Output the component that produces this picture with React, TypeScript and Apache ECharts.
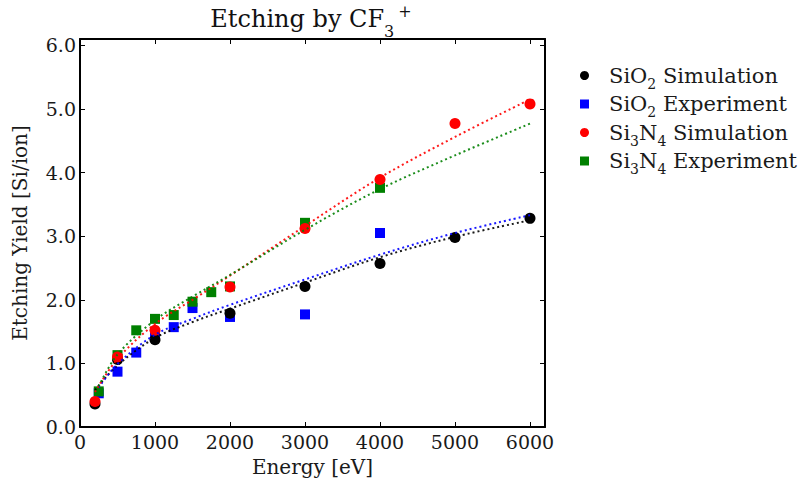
import React, { useEffect, useRef } from "react";
import * as echarts from "echarts";

// ---- data ----
const sio2SimX = [200, 500, 1000, 2000, 3000, 4000, 5000, 6000];
const sio2SimY = [0.36, 1.06, 1.37, 1.79, 2.21, 2.57, 2.98, 3.28];

const sio2ExpX = [250, 500, 750, 1000, 1250, 1500, 2000, 3000, 4000];
const sio2ExpY = [0.53, 0.87, 1.17, 1.45, 1.57, 1.87, 1.73, 1.77, 3.05];

const si3n4SimX = [200, 500, 1000, 2000, 3000, 4000, 5000, 6000];
const si3n4SimY = [0.4, 1.1, 1.52, 2.2, 3.12, 3.89, 4.77, 5.08];

const si3n4ExpX = [250, 500, 750, 1000, 1250, 1500, 1750, 2000, 3000, 4000];
const si3n4ExpY = [0.56, 1.13, 1.52, 1.7, 1.76, 1.97, 2.12, 2.21, 3.21, 3.76];

// fit curves (dotted), read at several energies
const fitSio2SimX = [200, 500, 1000, 1500, 2000, 3000, 4000, 5000, 6000];
const fitSio2SimY = [0.58, 0.97, 1.4, 1.65, 1.86, 2.27, 2.67, 2.99, 3.25];
const fitSio2ExpX = [250, 500, 1000, 1500, 2000, 3000, 4000, 5000, 6000];
const fitSio2ExpY = [0.62, 0.99, 1.45, 1.7, 1.92, 2.32, 2.71, 3.05, 3.33];
const fitSi3n4SimX = [200, 500, 1000, 1500, 2000, 3000, 4000, 5000, 6000];
const fitSi3n4SimY = [0.55, 1.07, 1.62, 2.0, 2.38, 3.16, 3.92, 4.56, 5.15];
const fitSi3n4ExpX = [250, 500, 1000, 1500, 2000, 3000, 4000, 5000, 6000];
const fitSi3n4ExpY = [0.64, 1.14, 1.68, 2.05, 2.39, 3.1, 3.74, 4.27, 4.77];

const legendNames = ["SiO2 Simulation", "SiO2 Experiment", "Si3N4 Simulation", "Si3N4 Experiment"];
const legendRich: Record<string, string> = {
  "SiO2 Simulation": "{a|SiO}{s|2}{a| Simulation}",
  "SiO2 Experiment": "{a|SiO}{s|2}{a| Experiment}",
  "Si3N4 Simulation": "{a|Si}{s|3}{a|N}{s|4}{a| Simulation}",
  "Si3N4 Experiment": "{a|Si}{s|3}{a|N}{s|4}{a| Experiment}",
};

const xTicks = { min: 0, max: 6200, interval: 1000 };
const yTicks = { min: 0, max: 6.1, interval: 1 };

const FONT = "DejaVu Serif";

function pairs(xs: number[], ys: number[]) {
  return xs.map((x, i) => [x, ys[i]]);
}

export default function App() {
  const ref = useRef<HTMLDivElement>(null);
  useEffect(() => {
    if (!ref.current) return;
    const chart = echarts.init(ref.current, undefined, { renderer: "svg" });
    const tickStyle = { inside: true, length: 5, lineStyle: { color: "#000", width: 1 } };
    const frame = { show: true, onZero: false, lineStyle: { color: "#000", width: 2 } };
    const fitLine = (name: string, xs: number[], ys: number[], color: string) => ({
      name,
      type: "line",
      data: pairs(xs, ys),
      smooth: 0.35,
      symbol: "none",
      silent: true,
      z: 5,
      lineStyle: { color, width: 2, type: [2, 3], opacity: 0.9 },
    });
    chart.setOption({
      animation: false,
      backgroundColor: "#fff",
      title: {
        text: "{a|Etching by CF}{s|3}{p|+}",
        left: 306,
        textAlign: "center",
        top: -2,
        textStyle: {
          fontWeight: "normal",
          rich: {
            a: { fontFamily: FONT, fontSize: 24, fontWeight: "normal", color: "#111", lineHeight: 32, verticalAlign: "middle" },
            s: { fontFamily: FONT, fontSize: 16, fontWeight: "normal", color: "#111", verticalAlign: "bottom", lineHeight: 32, padding: [0, 0, -4, 0] },
            p: { fontFamily: FONT, fontSize: 16, fontWeight: "normal", color: "#111", verticalAlign: "top", lineHeight: 32, padding: [0, 0, 0, 4] },
          },
        },
      },
      legend: {
        data: legendNames,
        orient: "vertical",
        left: 575,
        top: 60,
        itemWidth: 9,
        itemHeight: 9,
        itemGap: 3,
        formatter: (n: string) => legendRich[n] || n,
        textStyle: {
          padding: [0, 0, 0, 15],
          rich: {
            a: { fontFamily: FONT, fontSize: 21, color: "#1a1a1a", lineHeight: 20 },
            s: { fontFamily: FONT, fontSize: 14, color: "#1a1a1a", verticalAlign: "bottom", lineHeight: 20, padding: [0, 0, -5, 0] },
          },
        },
      },
      grid: { left: 80, right: 258, top: 39, bottom: 60, containLabel: false, outerBoundsMode: "none" },
      xAxis: [
        {
          type: "value",
          ...xTicks,
          name: "Energy [eV]",
          nameLocation: "middle",
          nameGap: 30,
          nameTextStyle: { fontFamily: FONT, fontSize: 20, color: "#1a1a1a" },
          axisLine: frame,
          axisTick: tickStyle,
          splitLine: { show: false },
          axisLabel: {
            fontFamily: FONT,
            fontSize: 19,
            color: "#1a1a1a",
            showMaxLabel: false,
            margin: 5,
            formatter: (v: number) => String(v),
          },
        },
        {
          type: "value",
          position: "top",
          ...xTicks,
          axisLine: frame,
          axisTick: tickStyle,
          splitLine: { show: false },
          axisLabel: { show: false },
        },
      ],
      yAxis: [
        {
          type: "value",
          ...yTicks,
          name: "Etching Yield [Si/ion]",
          nameLocation: "middle",
          nameGap: 50,
          nameTextStyle: { fontFamily: FONT, fontSize: 20, color: "#1a1a1a" },
          axisLine: frame,
          axisTick: tickStyle,
          splitLine: { show: false },
          axisLabel: {
            fontFamily: FONT,
            fontSize: 19,
            color: "#1a1a1a",
            showMaxLabel: false,
            margin: 4,
            formatter: (v: number) => v.toFixed(1),
          },
        },
        {
          type: "value",
          position: "right",
          ...yTicks,
          axisLine: frame,
          axisTick: tickStyle,
          splitLine: { show: false },
          axisLabel: { show: false },
        },
      ],
      series: [
        { name: "SiO2 Experiment", type: "scatter", symbol: "rect", symbolSize: 10, itemStyle: { color: "#0000ff", opacity: 1 }, data: pairs(sio2ExpX, sio2ExpY), z: 2 },
        { name: "SiO2 Simulation", type: "scatter", symbol: "circle", symbolSize: 11, itemStyle: { color: "#000000", opacity: 1 }, data: pairs(sio2SimX, sio2SimY), z: 2 },
        { name: "Si3N4 Experiment", type: "scatter", symbol: "rect", symbolSize: 10, itemStyle: { color: "#008000", opacity: 1 }, data: pairs(si3n4ExpX, si3n4ExpY), z: 2 },
        { name: "Si3N4 Simulation", type: "scatter", symbol: "circle", symbolSize: 11, itemStyle: { color: "#ff0000", opacity: 1 }, data: pairs(si3n4SimX, si3n4SimY), z: 2 },
        fitLine("fit1", fitSio2SimX, fitSio2SimY, "#000000"),
        fitLine("fit2", fitSio2ExpX, fitSio2ExpY, "#0000ff"),
        fitLine("fit3", fitSi3n4SimX, fitSi3n4SimY, "#ff0000"),
        fitLine("fit4", fitSi3n4ExpX, fitSi3n4ExpY, "#008000"),
      ],
    });
    return () => chart.dispose();
  }, []);
  return <div ref={ref} style={{ width: 803, height: 487, position: "absolute", left: 0, top: 0 }} />;
}
